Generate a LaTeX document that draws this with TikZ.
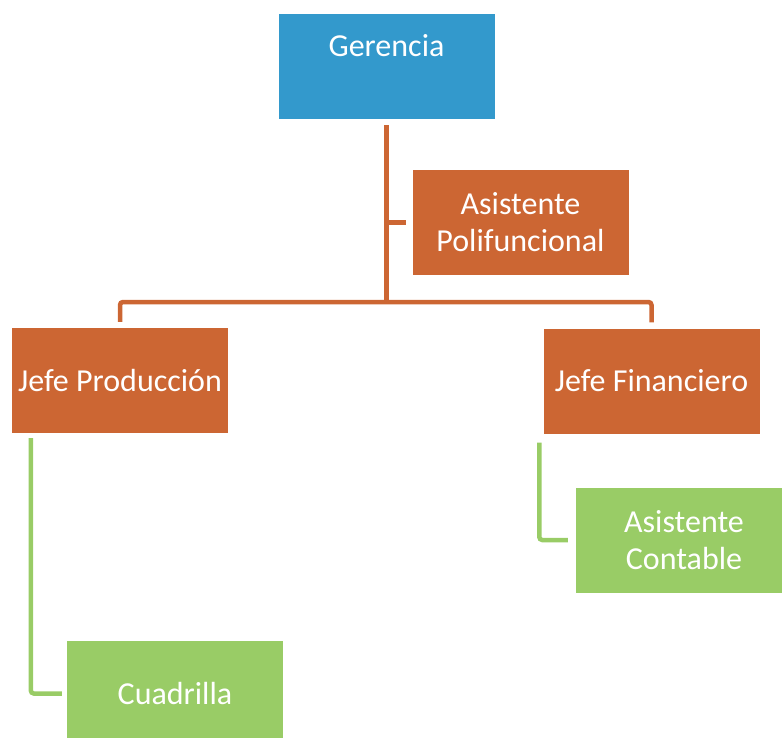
\documentclass[tikz,border=0pt]{standalone}
\usepackage{fontspec}
\setmainfont{Carlito}
\usetikzlibrary{calc}
\definecolor{cblue}{RGB}{51,153,204}
\definecolor{corange}{RGB}{204,102,51}
\definecolor{cgreen}{RGB}{153,204,102}
\tikzset{
  box/.style={rectangle, inner sep=0pt, minimum width=216pt, minimum height=105pt,
    text=white, align=center, font=\fontsize{32}{37}\selectfont},
  bluebox/.style={box, fill=cblue},
  orangebox/.style={box, fill=corange},
  greenbox/.style={box, fill=cgreen},
  oline/.style={draw=corange, line width=4.5pt, rounded corners=3pt},
  gline/.style={draw=cgreen, line width=4.5pt, rounded corners=3pt},
}
\begin{document}
\begin{tikzpicture}[x=1pt,y=-1pt]
\useasboundingbox (0,0) rectangle (782,738);
\clip (0,0) rectangle (782,738);
\node[bluebox, text height=22pt, text depth=41pt] (ger) at (386.5,66.5) {Gerencia};
\node[orangebox] (ap) at (520.5,222.5) {Asistente\\Polifuncional};
\node[orangebox] (jp) at (120,380.5) {Jefe Producción};
\node[orangebox] (jf) at (651.5,381) {Jefe Financiero};
\node[greenbox] (cu) at (175,693.5) {Cuadrilla};
\node[greenbox] (ac) at (684,540) {Asistente\\Contable};
\coordinate (bus) at (386.5,302);
\draw[oline, shorten <=6pt] (ger.south) -- (bus);
\draw[oline, shorten <=6pt, shorten >=6pt] (jp.north) -- (jp.north |- bus) -- (jf.north |- bus) -- (jf.north);
\draw[oline, shorten >=6pt] (ger.south |- ap.west) -- (ap.west);
\coordinate (gl) at ($(jp.south west)+(19,0)$);
\draw[gline, shorten <=5pt, shorten >=5pt] (gl) -- (gl |- cu.west) -- (cu.west);
\coordinate (gr) at ($(jf.south west)+(-4,0)$);
\draw[gline, shorten <=9pt, shorten >=8pt] (gr) -- (gr |- ac.west) -- (ac.west);
\end{tikzpicture}
\end{document}
